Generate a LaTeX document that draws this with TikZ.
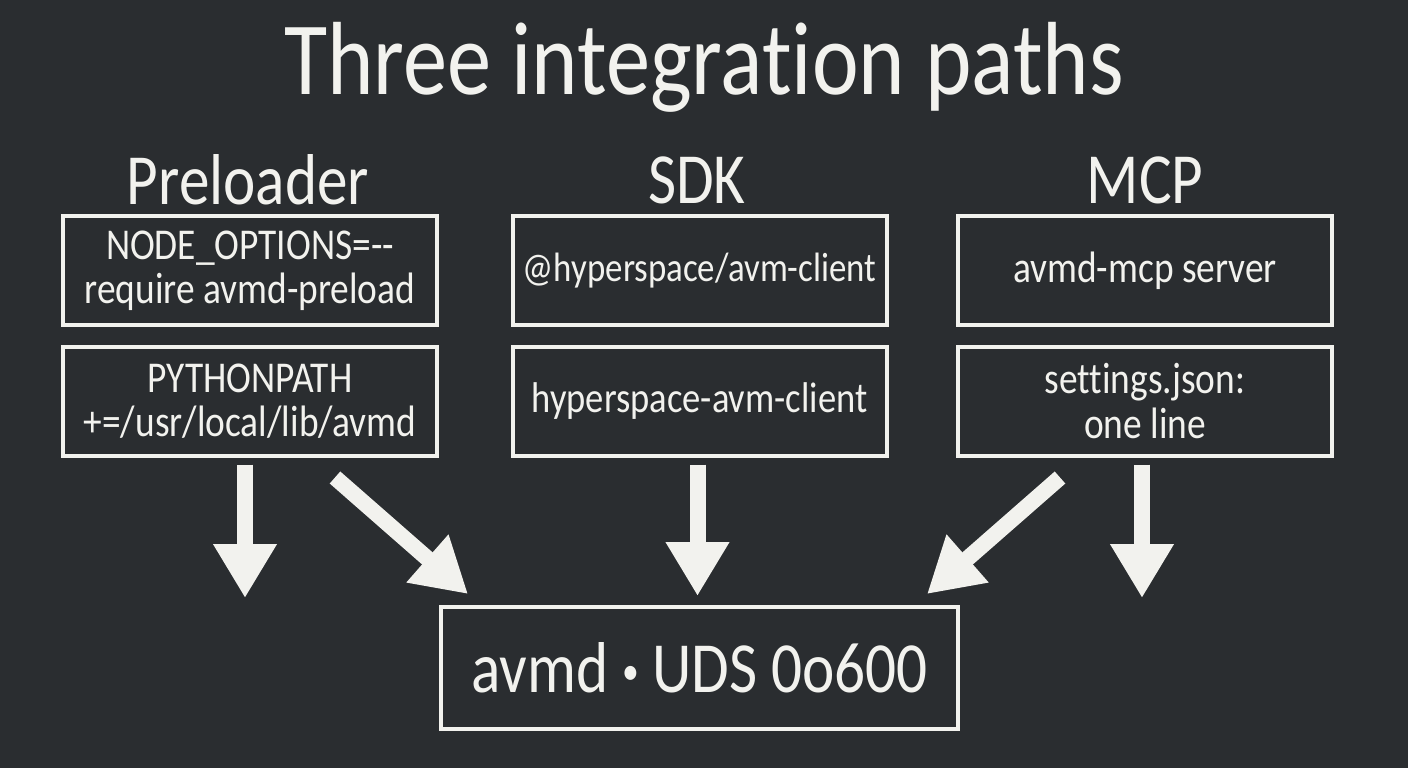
\documentclass[tikz,border=0pt]{standalone}
\usepackage{fontspec}
\setmainfont{Carlito}[FakeStretch=0.85, Ligatures={TeX,NoCommon}]
\usetikzlibrary{arrows.meta,calc}
\definecolor{board}{HTML}{2A2D30}
\definecolor{chalk}{HTML}{F2F2EE}
\begin{document}
\begin{tikzpicture}[x=0.5pt,y=-0.5pt,
  box/.style={draw=chalk, line width=2pt, text=chalk, minimum width=187pt, minimum height=54.5pt, align=center, font=\fontsize{22}{22}\selectfont, inner sep=0pt},
  head/.style={text=chalk, font=\fontsize{36}{40}\selectfont},
  flow/.style={draw=chalk, line width=8pt, -{Triangle[width=30pt,length=27pt]}}
]
\fill[board] (0,0) rectangle (1408,768);
\useasboundingbox (0,0) rectangle (1408,768);
\node[text=chalk, font=\fontsize{52}{56}\selectfont] (title) at (704,67) {Three integration paths};
\node[head] (h1) at (248,180) {Preloader};
\node[head] (h2) at (697,180) {SDK};
\node[head] (h3) at (1145,180) {MCP};
\node[box] (p1) at (250,270.5) {NODE\_OPTIONS=-{}-\\require avmd-preload};
\node[box] (p2) at (250,401) {PYTHONPATH\\+=/usr/local/lib/avmd};
\node[box, font=\fontsize{20.5}{22}\selectfont] (s1) at (699.5,270.5) {@hyperspace/avm-client};
\node[box, font=\fontsize{21.5}{22}\selectfont] (s2) at (699.5,401) {hyperspace-avm-client};
\node[box] (m1) at (1145,270.5) {avmd-mcp server};
\node[box] (m2) at (1145,401) {settings.json:\\one line};
\node[box, minimum width=258.5pt, minimum height=61pt, font=\fontsize{36}{40}\selectfont] (bot) at (699.5,668) {avmd \raisebox{0.12em}{\scalebox{0.55}{•}} UDS 0o600};
\coordinate (e1) at (245,598);
\coordinate (e5) at (1142,598);
\draw[flow] ($(p2.south -| e1)+(0,7)$) -- (e1);
\draw[flow] ($(p2.south)+(85,20)$) -- ($(bot.north west)+(29,-11)$);
\draw[flow] ($(s2.south)+(-2,7)$) -- ($(bot.north)+(-2,-9)$);
\draw[flow] ($(m2.south)+(-85,20)$) -- ($(bot.north east)+(-33,-11)$);
\draw[flow] ($(m2.south -| e5)+(0,7)$) -- (e5);
\end{tikzpicture}
\end{document}
